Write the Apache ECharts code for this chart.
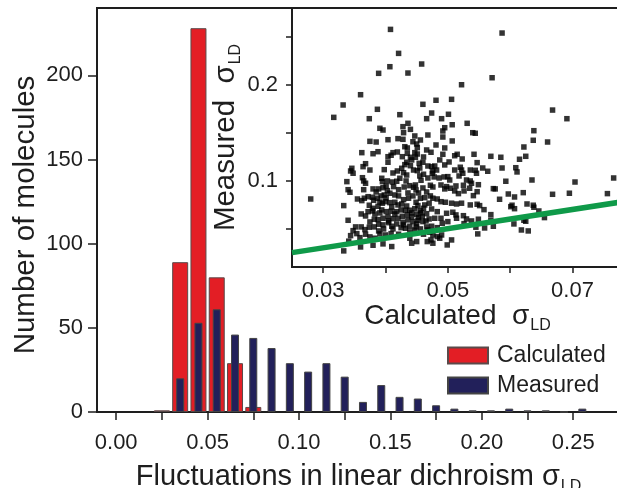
<!doctype html>
<html lang="en">
  <head>
    <meta charset="utf-8">
    <title>LD fluctuations</title>
    <script src="https://cdn.jsdelivr.net/npm/echarts@6.0.0/dist/echarts.min.js"></script>
    <style>
      html, body {
        width: 100%;
        height: 100%;
        margin: 0;
        background: #fff;
      }

      #chart {
        width: 617px;
        height: 488px;
      }
    </style>
  </head>
  <body>
    <div id="chart"></div>
    <script>
      // histogram bins (bin centres) and counts
      const calcX = [0.025, 0.035, 0.045, 0.055, 0.065, 0.075];
      const calcN = [1, 89, 228, 80, 29, 3];

      const measX = [0.035, 0.045, 0.055, 0.065, 0.075, 0.085, 0.095, 0.105, 0.115, 0.125, 0.135, 0.145,
                     0.155, 0.165, 0.175, 0.185, 0.195, 0.205, 0.215, 0.225, 0.235, 0.245, 0.255];
      const measN = [20, 53, 61, 46, 44, 38, 29, 24, 29, 21, 6, 16, 9, 8, 4, 2, 1, 1, 2, 1, 1, 0, 2];

      // tick positions / labels
      const mainXTicks = [0, 0.025, 0.05, 0.075, 0.1, 0.125, 0.15, 0.175, 0.2, 0.225, 0.25];
      const mainXLabels = [0, 0.05, 0.1, 0.15, 0.2, 0.25];
      const mainYLabels = [0, 50, 100, 150, 200];
      const mainYMinor = [25, 75, 125, 175, 225];
      const insetXTicks = [0.03, 0.04, 0.05, 0.06, 0.07];
      const insetXLabels = [0.03, 0.05, 0.07];
      const insetYTicks = [0.05, 0.1, 0.15, 0.2, 0.25];
      const insetYLabels = [0.1, 0.2];

      // inset: calculated vs measured sigma_LD
      const insetPoints = [
        [0.0408,0.2577],[0.0587,0.2539],[0.0421,0.2327],[0.0407,0.2188],[0.0458,0.2216],[0.0389,0.2119],
        [0.0436,0.2122],[0.0571,0.2073],[0.0522,0.2000],[0.0360,0.1896],[0.0332,0.1789],[0.0317,0.1660],
        [0.0387,0.1744],[0.0374,0.1646],[0.0423,0.1688],[0.0460,0.1796],[0.0481,0.1838],[0.0506,0.1848],
        [0.0474,0.1705],[0.0466,0.1646],[0.0490,0.1646],[0.0501,0.1692],[0.0668,0.1736],[0.0691,0.1646],
        [0.0531,0.1598],[0.0507,0.1583],[0.0495,0.1552],[0.0492,0.1518],[0.0436,0.1598],[0.0428,0.1563],
        [0.0440,0.1535],[0.0429,0.1500],[0.0391,0.1546],[0.0396,0.1528],[0.0540,0.1500],[0.0544,0.1494],
        [0.0638,0.1521],[0.0468,0.1476],[0.0492,0.1455],[0.0447,0.1466],[0.0375,0.1410],[0.0385,0.1403],
        [0.0404,0.1427],[0.0420,0.1438],[0.0428,0.1431],[0.0444,0.1406],[0.0456,0.1424],[0.0507,0.1414],
        [0.0637,0.1421],[0.0660,0.1403],[0.0431,0.1354],[0.0435,0.1341],[0.0451,0.1344],[0.0495,0.1341],
        [0.0622,0.1351],[0.0362,0.1292],[0.0380,0.1281],[0.0388,0.1302],[0.0419,0.1299],[0.0447,0.1292],
        [0.0451,0.1278],[0.0473,0.1296],[0.0492,0.1275],[0.0511,0.1260],[0.0515,0.1275],[0.0569,0.1254],
        [0.0585,0.1244],[0.0615,0.1223],[0.0625,0.1254],[0.0404,0.1250],[0.0409,0.1265],[0.0427,0.1250],
        [0.0440,0.1244],[0.0461,0.1247],[0.0523,0.1226],[0.0450,0.1382],[0.0435,0.1285],[0.0448,0.1244],
        [0.0502,0.1195],[0.0542,0.1275],[0.0547,0.1188],[0.0434,0.1192],[0.0431,0.1167],[0.0440,0.1156],
        [0.0454,0.1181],[0.0460,0.1192],[0.0426,0.1129],[0.0429,0.1083],[0.0434,0.1059],[0.0445,0.1111],
        [0.0451,0.1104],[0.0468,0.1153],[0.0474,0.1146],[0.0479,0.1153],[0.0476,0.1101],[0.0475,0.1077],
        [0.0520,0.1140],[0.0522,0.1111],[0.0524,0.1077],[0.0518,0.1049],[0.0536,0.1111],[0.0544,0.1108],
        [0.0546,0.1077],[0.0455,0.1049],[0.0461,0.1067],[0.0478,0.1039],[0.0486,0.1028],[0.0494,0.1039],
        [0.0500,0.1042],[0.0530,0.1007],[0.0536,0.0997],[0.0538,0.0973],[0.0423,0.1025],[0.0433,0.0997],
        [0.0457,0.1004],[0.0448,0.0955],[0.0430,0.0934],[0.0439,0.0948],[0.0445,0.0931],[0.0472,0.0952],
        [0.0476,0.0934],[0.0489,0.0955],[0.0498,0.0938],[0.0513,0.0945],[0.0525,0.0952],[0.0549,0.0958],
        [0.0412,0.1292],[0.0404,0.1192],[0.0368,0.1177],[0.0364,0.1146],[0.0375,0.1111],[0.0346,0.1129],
        [0.0344,0.1101],[0.0348,0.1077],[0.0398,0.1115],[0.0412,0.1080],[0.0419,0.1101],[0.0338,0.0990],
        [0.0363,0.1031],[0.0365,0.0997],[0.0368,0.0973],[0.0394,0.1025],[0.0395,0.0990],[0.0403,0.0997],
        [0.0411,0.0986],[0.0418,0.0994],[0.0280,0.0809],[0.0340,0.0906],[0.0343,0.0879],[0.0365,0.0906],
        [0.0380,0.0914],[0.0389,0.0914],[0.0396,0.0927],[0.0403,0.0896],[0.0413,0.0938],[0.0421,0.0906],
        [0.0355,0.0809],[0.0362,0.0792],[0.0366,0.0817],[0.0372,0.0833],[0.0379,0.0827],[0.0381,0.0796],
        [0.0387,0.0817],[0.0393,0.0841],[0.0398,0.0851],[0.0407,0.0869],[0.0415,0.0851],[0.0333,0.0740],
        [0.0374,0.0744],[0.0380,0.0712],[0.0388,0.0733],[0.0395,0.0765],[0.0400,0.0781],[0.0407,0.0771],
        [0.0415,0.0775],[0.0420,0.0747],[0.0372,0.0677],[0.0379,0.0684],[0.0361,0.0653],[0.0394,0.0695],
        [0.0401,0.0677],[0.0409,0.0681],[0.0418,0.0677],[0.0340,0.0587],[0.0382,0.0598],[0.0388,0.0594],
        [0.0396,0.0608],[0.0404,0.0625],[0.0412,0.0604],[0.0420,0.0608],[0.0352,0.0518],[0.0348,0.0479],
        [0.0361,0.0518],[0.0367,0.0490],[0.0374,0.0515],[0.0382,0.0518],[0.0389,0.0546],[0.0396,0.0539],
        [0.0405,0.0562],[0.0410,0.0525],[0.0418,0.0549],[0.0344,0.0427],[0.0354,0.0448],[0.0359,0.0406],
        [0.0368,0.0442],[0.0375,0.0414],[0.0383,0.0400],[0.0391,0.0445],[0.0400,0.0434],[0.0409,0.0448],
        [0.0421,0.0442],[0.0341,0.0369],[0.0360,0.0309],[0.0380,0.0327],[0.0396,0.0341],[0.0410,0.0313],
        [0.0333,0.0268],[0.0449,0.0903],[0.0436,0.0872],[0.0456,0.0817],[0.0463,0.0823],[0.0472,0.0841],
        [0.0476,0.0817],[0.0483,0.0809],[0.0495,0.0914],[0.0504,0.0921],[0.0511,0.0893],[0.0517,0.0865],
        [0.0526,0.0893],[0.0535,0.0921],[0.0547,0.0885],[0.0429,0.0802],[0.0437,0.0817],[0.0449,0.0775],
        [0.0452,0.0740],[0.0470,0.0765],[0.0474,0.0705],[0.0489,0.0781],[0.0496,0.0775],[0.0506,0.0765],
        [0.0514,0.0757],[0.0522,0.0765],[0.0536,0.0747],[0.0547,0.0754],[0.0425,0.0695],[0.0432,0.0692],
        [0.0439,0.0692],[0.0447,0.0708],[0.0456,0.0687],[0.0461,0.0712],[0.0427,0.0629],[0.0435,0.0643],
        [0.0442,0.0622],[0.0450,0.0650],[0.0453,0.0615],[0.0459,0.0629],[0.0466,0.0656],[0.0483,0.0677],
        [0.0498,0.0660],[0.0508,0.0671],[0.0513,0.0643],[0.0525,0.0635],[0.0530,0.0601],[0.0538,0.0580],
        [0.0549,0.0598],[0.0428,0.0567],[0.0436,0.0591],[0.0444,0.0573],[0.0452,0.0587],[0.0460,0.0573],
        [0.0470,0.0601],[0.0479,0.0608],[0.0489,0.0608],[0.0491,0.0556],[0.0500,0.0573],[0.0514,0.0608],
        [0.0526,0.0552],[0.0425,0.0510],[0.0432,0.0504],[0.0439,0.0525],[0.0449,0.0518],[0.0456,0.0497],
        [0.0466,0.0518],[0.0474,0.0525],[0.0483,0.0510],[0.0461,0.0442],[0.0471,0.0462],[0.0476,0.0434],
        [0.0483,0.0417],[0.0490,0.0434],[0.0487,0.0400],[0.0442,0.0348],[0.0450,0.0365],[0.0467,0.0365],
        [0.0473,0.0382],[0.0476,0.0348],[0.0499,0.0330],[0.0506,0.0382],[0.0439,0.0400],[0.0556,0.1132],
        [0.0564,0.1098],[0.0587,0.1132],[0.0609,0.1135],[0.0611,0.1091],[0.0593,0.0994],[0.0635,0.1007],
        [0.0704,0.0986],[0.0766,0.1028],[0.0573,0.0917],[0.0576,0.0914],[0.0541,0.0844],[0.0597,0.0861],
        [0.0607,0.0830],[0.0621,0.0875],[0.0668,0.0858],[0.0695,0.0869],[0.0756,0.0865],[0.0583,0.0806],
        [0.0627,0.0757],[0.0551,0.0740],[0.0558,0.0698],[0.0601,0.0729],[0.0603,0.0744],[0.0607,0.0708],
        [0.0637,0.0744],[0.0638,0.0723],[0.0646,0.0684],[0.0569,0.0646],[0.0655,0.0615],[0.0569,0.0587],
        [0.0622,0.0587],[0.0625,0.0577],[0.0573,0.0525],[0.0559,0.0507],[0.0545,0.0515],[0.0606,0.0549],
        [0.0618,0.0486],[0.0629,0.0476],[0.0548,0.0445],
        [0.0385,0.0882],[0.0391,0.0778],[0.0401,0.0820],[0.0410,0.0726],[0.0383,0.0653],[0.0391,0.0664],
        [0.0405,0.0580],[0.0415,0.0653],[0.0397,0.0497],[0.0375,0.0570],[0.0368,0.0632],[0.0401,0.0945],
        [0.0421,0.0841],[0.0412,0.0497],[0.0389,0.0476],[0.0426,0.0757],[0.0434,0.0736],[0.0442,0.0664],
        [0.0450,0.0549],[0.0457,0.0664],[0.0465,0.0580],[0.0429,0.0539],[0.0439,0.0466],[0.0447,0.0486],
        [0.0468,0.0486],[0.0463,0.0747],[0.0444,0.0841],[0.0453,0.0872],[0.0460,0.0924],[0.0466,0.0882],
        [0.0442,0.1216],[0.0455,0.1132],[0.0468,0.1028],[0.0482,0.1111],[0.0487,0.1216],[0.0466,0.1320],
        [0.0481,0.1372],[0.0495,0.1164],[0.0503,0.1007],[0.0511,0.1111]
      ];

      // y = x reference line
      const diagonal = [[0.025, 0.025], [0.078, 0.078]];

      const font = "'Liberation Sans', Arial, sans-serif";
      const ink = '#1e1e1e';
      const subStyle = { fontSize: 16, fontFamily: font, color: ink, padding: [20, 0, 0, 1] };

      let chart = echarts.init(document.getElementById('chart'), null, {renderer: 'canvas'});

      let option = {
        animation: false,
        backgroundColor: '#fff',
        textStyle: { fontFamily: font, color: ink },
        legend: {
          orient: 'vertical',
          left: 447,
          top: 344,
          padding: 0,
          icon: 'rect',
          itemWidth: 40,
          itemHeight: 16,
          itemGap: 7,
          data: ['Calculated', 'Measured'],
          textStyle: { fontSize: 23, fontFamily: font, color: ink, padding: [0, 0, 0, 4] }
        },
        grid: [
          { left: 97, top: 8, right: -3, bottom: 76, outerBoundsMode: 'none',
            show: true, borderColor: ink, borderWidth: 2 },
          { left: 292, top: 8, right: -6, bottom: 221, outerBoundsMode: 'none',
            show: true, borderColor: ink, borderWidth: 2, backgroundColor: '#fff', z: 5 }
        ],
        xAxis: [
          {
            type: 'value', gridIndex: 0, min: -0.0105, max: 0.2756,
            splitLine: { show: false },
            axisLine: { onZero: false, lineStyle: { color: ink, width: 2 } },
            axisTick: { customValues: mainXTicks, length: 8, lineStyle: { color: ink, width: 1.5 } },
            axisLabel: { customValues: mainXLabels, fontSize: 22, color: ink, margin: 20,
                         formatter: (v) => v.toFixed(2) },
            name: 'Fluctuations in linear dichroism σ{s|LD}',
            nameLocation: 'middle',
            nameGap: 47,
            nameTextStyle: { fontSize: 29, fontFamily: font, color: ink, rich: { s: subStyle } }
          },
          {
            type: 'value', gridIndex: 0, min: -0.0105, max: 0.2756, show: false
          },
          {
            type: 'value', gridIndex: 1, min: 0.025, max: 0.0781,
            splitLine: { show: false },
            axisLine: { onZero: false, lineStyle: { color: ink, width: 2 } },
            axisTick: { customValues: insetXTicks, length: 6, lineStyle: { color: ink, width: 1.5 } },
            axisLabel: { customValues: insetXLabels, fontSize: 22, color: ink, margin: 13,
                         formatter: (v) => v.toFixed(2) },
            name: 'Calculated  σ{s|LD}',
            nameLocation: 'middle',
            nameMoveOverlap: false,
            nameGap: 31,
            nameTextStyle: { fontSize: 28, fontFamily: font, color: ink, rich: { s: subStyle } }
          }
        ],
        yAxis: [
          {
            type: 'value', gridIndex: 0, min: 0, max: 240,
            splitLine: { show: false },
            axisLine: { show: true, onZero: false, lineStyle: { color: ink, width: 2 } },
            axisTick: { customValues: mainYLabels, length: 9, lineStyle: { color: ink, width: 1.5 } },
            axisLabel: { customValues: mainYLabels, fontSize: 22, color: ink, margin: 14 },
            name: 'Number of molecules',
            nameLocation: 'middle',
            nameRotate: 90,
            nameMoveOverlap: false,
            nameGap: 56,
            nameTextStyle: { fontSize: 29.5, fontFamily: font, color: ink, padding: [0, 10, 0, 0] }
          },
          {
            type: 'value', gridIndex: 0, min: 0, max: 240,
            splitLine: { show: false },
            axisLine: { show: false, onZero: false },
            axisLabel: { show: false },
            axisTick: { customValues: mainYMinor, length: 5, lineStyle: { color: ink, width: 1.5 } }
          },
          {
            type: 'value', gridIndex: 1, min: 0.01, max: 0.28,
            splitLine: { show: false },
            axisLine: { show: true, onZero: false, lineStyle: { color: ink, width: 2 } },
            axisTick: { customValues: insetYTicks, length: 6, lineStyle: { color: ink, width: 1.5 } },
            axisLabel: { customValues: insetYLabels, fontSize: 22, color: ink, margin: 14,
                         formatter: (v) => v.toFixed(1) },
            name: 'Measured  σ{s|LD}',
            nameLocation: 'middle',
            nameRotate: 90,
            nameMoveOverlap: false,
            nameGap: 48,
            nameTextStyle: { fontSize: 29.5, fontFamily: font, color: ink, rich: { s: subStyle } }
          }
        ],
        series: [
          {
            name: 'Calculated',
            type: 'bar',
            xAxisIndex: 0,
            yAxisIndex: 0,
            barWidth: 16,
            itemStyle: { color: '#e31e25', borderColor: '#5a4a4a', borderWidth: 1 },
            data: calcX.map((x, i) => [x, calcN[i]])
          },
          {
            name: 'Measured',
            type: 'bar',
            xAxisIndex: 1,
            yAxisIndex: 0,
            barWidth: 8,
            itemStyle: { color: '#22205a', borderColor: '#444', borderWidth: 1 },
            data: measX.map((x, i) => [x, measN[i]])
          },
          {
            type: 'scatter',
            xAxisIndex: 2,
            yAxisIndex: 2,
            symbol: 'rect',
            symbolSize: 5.5,
            z: 6,
            itemStyle: { color: '#000' },
            data: insetPoints
          },
          {
            type: 'line',
            xAxisIndex: 2,
            yAxisIndex: 2,
            symbol: 'none',
            z: 7,
            lineStyle: { color: '#0f9a49', width: 5.5 },
            data: diagonal
          }
        ]
      };

      chart.setOption(option);
    </script>
  </body>
</html>
